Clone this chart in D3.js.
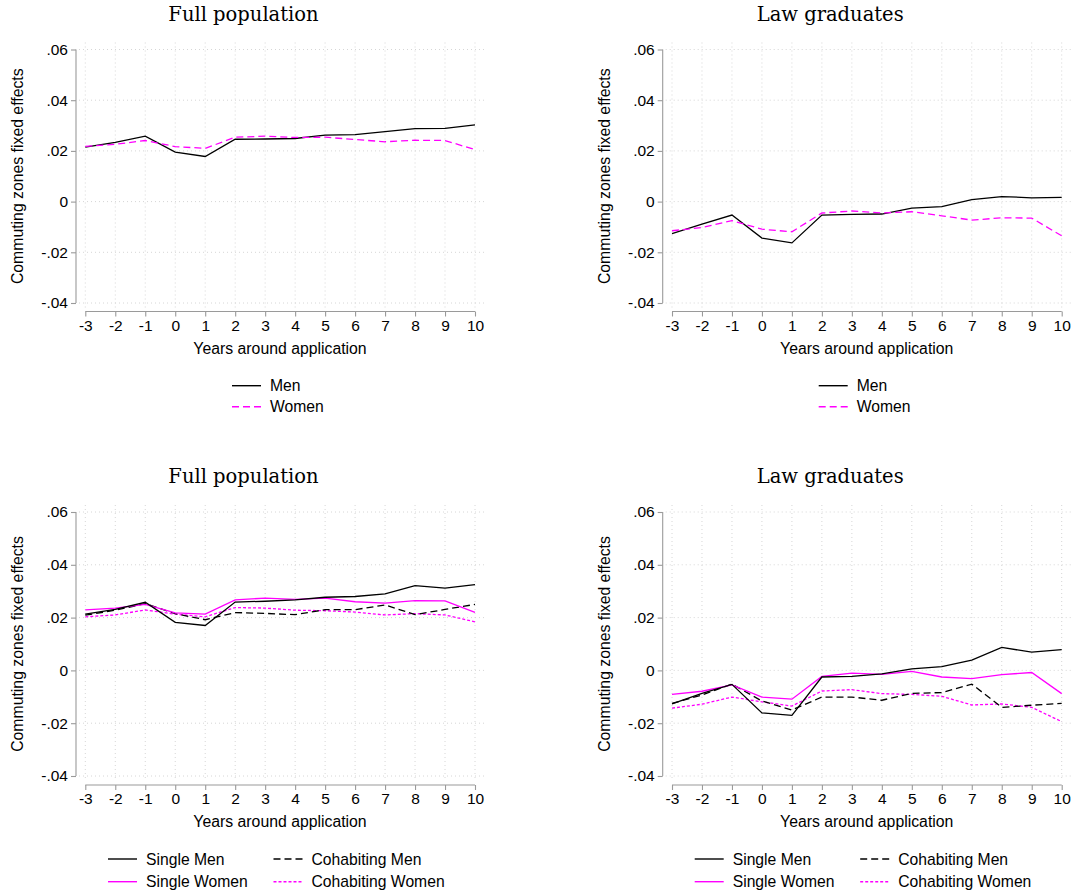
<!DOCTYPE html>
<html>
<head>
<meta charset="utf-8">
<script src="https://cdn.jsdelivr.net/npm/d3@7"></script>
<style>
  body { margin: 0; background: #fff; }
  svg { display: block; }
  text { font-family: "Liberation Sans", Arial, sans-serif; fill: #000; }
  .title { font-family: "DejaVu Serif", "Liberation Serif", serif; }
</style>
</head>
<body>
<div id="chart"></div>
<script>
const years = [-3, -2, -1, 0, 1, 2, 3, 4, 5, 6, 7, 8, 9, 10];
const yTicks = [-0.04, -0.02, 0, 0.02, 0.04, 0.06];

// top row: by gender
const fullMen = [0.0215, 0.0234, 0.0258, 0.0195, 0.0178, 0.0246, 0.0247, 0.0249, 0.0262, 0.0264, 0.0276, 0.0288, 0.0289, 0.0303];
const fullWomen = [0.0218, 0.0226, 0.0241, 0.0217, 0.0210, 0.0254, 0.0258, 0.0253, 0.0254, 0.0245, 0.0236, 0.0242, 0.0241, 0.0205];
const lawMen = [-0.0126, -0.0089, -0.0053, -0.0144, -0.0163, -0.0053, -0.0050, -0.0049, -0.0026, -0.0020, 0.0008, 0.0020, 0.0015, 0.0017];
const lawWomen = [-0.0115, -0.0102, -0.0075, -0.0109, -0.0119, -0.0045, -0.0037, -0.0045, -0.0040, -0.0056, -0.0073, -0.0064, -0.0065, -0.0135];

// bottom row: by gender and household
const fullSingleMen = [0.0213, 0.0231, 0.0258, 0.0182, 0.0170, 0.0259, 0.0262, 0.0267, 0.0277, 0.0280, 0.0290, 0.0321, 0.0312, 0.0325];
const fullSingleWomen = [0.0229, 0.0236, 0.0250, 0.0218, 0.0213, 0.0267, 0.0274, 0.0269, 0.0274, 0.0260, 0.0255, 0.0264, 0.0263, 0.0220];
const fullCohabMen = [0.0209, 0.0228, 0.0253, 0.0215, 0.0192, 0.0219, 0.0216, 0.0211, 0.0230, 0.0230, 0.0248, 0.0211, 0.0231, 0.0250];
const fullCohabWomen = [0.0203, 0.0210, 0.0229, 0.0213, 0.0203, 0.0238, 0.0236, 0.0228, 0.0226, 0.0221, 0.0210, 0.0215, 0.0210, 0.0184];
const lawSingleMen = [-0.0127, -0.0087, -0.0053, -0.0161, -0.0170, -0.0025, -0.0023, -0.0013, 0.0006, 0.0014, 0.0039, 0.0087, 0.0069, 0.0079];
const lawSingleWomen = [-0.0091, -0.0079, -0.0055, -0.0101, -0.0109, -0.0023, -0.0010, -0.0015, -0.0004, -0.0025, -0.0031, -0.0016, -0.0008, -0.0088];
const lawCohabMen = [-0.0125, -0.0093, -0.0052, -0.0116, -0.0150, -0.0101, -0.0101, -0.0113, -0.0087, -0.0084, -0.0052, -0.0140, -0.0132, -0.0125];
const lawCohabWomen = [-0.0143, -0.0128, -0.0101, -0.0119, -0.0135, -0.0078, -0.0073, -0.0088, -0.0091, -0.0098, -0.0131, -0.0127, -0.0140, -0.0194];

const pink = "#ff00ff";
const styles = {
  "Men": { color: "#000", dash: null },
  "Women": { color: pink, dash: "7,4" },
  "Single Men": { color: "#000", dash: null },
  "Single Women": { color: pink, dash: null },
  "Cohabiting Men": { color: "#000", dash: "7,4" },
  "Cohabiting Women": { color: pink, dash: "3,2" }
};

const svg = d3.select("#chart").append("svg")
  .attr("width", 1075)
  .attr("height", 892);

// Stata style labels: ".02", "-.04", plain hyphen minus
const fmtY = (d) => d === 0 ? "0" : (d < 0 ? "-" : "") + Math.abs(d).toFixed(2).replace(/^0/, "");
const fmtX = (d) => (d < 0 ? "-" : "") + Math.abs(d);

function drawPanel(opt) {
  const g = svg.append("g").attr("transform", `translate(${opt.dx},${opt.dy})`);

  const x = d3.scaleLinear().domain([-3, 10]).range([85.3, 475]);
  const y = d3.scaleLinear().domain([-0.04, 0.06]).range([opt.yBottom, opt.yTop]);

  // dotted grid
  g.selectAll(".hgrid").data(yTicks).enter().append("line")
    .attr("x1", 79).attr("x2", 484)
    .attr("y1", (d) => y(d)).attr("y2", (d) => y(d))
    .attr("stroke", "#d6d6d6").attr("stroke-dasharray", "1,3");
  g.selectAll(".vgrid").data(years).enter().append("line")
    .attr("x1", (d) => x(d)).attr("x2", (d) => x(d))
    .attr("y1", opt.yTop - 7).attr("y2", opt.yBottom + 5)
    .attr("stroke", "#d6d6d6").attr("stroke-dasharray", "1,3");

  // axes
  const yAxis = g.append("g").attr("transform", "translate(76,0)")
    .call(d3.axisLeft(y).tickValues(yTicks).tickFormat(fmtY).tickSize(5).tickPadding(3));
  const xAxis = g.append("g").attr("transform", `translate(0,${opt.xAxisY})`)
    .call(d3.axisBottom(x).tickValues(years).tickFormat(fmtX).tickSize(5).tickPadding(3));
  [yAxis, xAxis].forEach((a) => {
    a.select(".domain").attr("stroke", "#9a9a9a").attr("stroke-width", 1.1);
    a.selectAll(".tick line").attr("stroke", "#9a9a9a").attr("stroke-width", 1.1);
    a.selectAll(".tick text").style("font-size", "15.5px").attr("fill", "#000")
      .style("font-family", "'Liberation Sans', Arial, sans-serif");
  });
  yAxis.select(".domain").attr("d", `M0,${y(0.06)}V${y(-0.04)}`);
  xAxis.select(".domain").attr("d", `M${x(-3)},0H${x(10)}`);

  // titles
  g.append("text").attr("class", "title")
    .attr("x", 243.5).attr("y", opt.titleY)
    .attr("text-anchor", "middle")
    .style("font-size", "19.5px")
    .text(opt.title);
  g.append("text")
    .attr("x", 280).attr("y", opt.xAxisY + 42)
    .attr("text-anchor", "middle")
    .style("font-size", "15.8px")
    .text("Years around application");
  g.append("text")
    .attr("transform", `translate(23,${(opt.yTop + opt.yBottom) / 2}) rotate(-90)`)
    .attr("text-anchor", "middle")
    .style("font-size", "15.8px")
    .text("Commuting zones fixed effects");

  // lines
  const line = d3.line().x((d, i) => x(years[i])).y((d) => y(d));
  opt.series.forEach((s) => {
    const st = styles[s.name];
    g.append("path")
      .datum(s.values)
      .attr("d", line)
      .attr("fill", "none")
      .attr("stroke", st.color)
      .attr("stroke-width", 1.3)
      .attr("stroke-dasharray", st.dash);
  });

  // legend
  const leg = g.selectAll(".legend").data(opt.legend).enter().append("g")
    .attr("transform", (d) => `translate(${d.x},${d.y})`);
  leg.append("line")
    .attr("x1", 0).attr("x2", 29)
    .attr("stroke", (d) => styles[d.name].color)
    .attr("stroke-width", 1.4)
    .attr("stroke-dasharray", (d) => styles[d.name].dash);
  leg.append("text")
    .attr("x", 38).attr("dy", "0.35em")
    .style("font-size", "15.7px")
    .text((d) => d.name);
}

const topLegend = [
  { name: "Men", x: 232, y: 385.7 },
  { name: "Women", x: 232, y: 406.7 }
];
const bottomLegend = [
  { name: "Single Men", x: 108, y: 859 },
  { name: "Cohabiting Men", x: 273.5, y: 859 },
  { name: "Single Women", x: 108, y: 881.7 },
  { name: "Cohabiting Women", x: 273.5, y: 881.7 }
];

const topRow = { yTop: 49.5, yBottom: 303, xAxisY: 311.5, titleY: 21 };
const bottomRow = { yTop: 512, yBottom: 776, xAxisY: 785, titleY: 483 };

drawPanel({ ...topRow, dx: 0, dy: 0, title: "Full population", legend: topLegend,
  series: [{ name: "Men", values: fullMen }, { name: "Women", values: fullWomen }] });
drawPanel({ ...topRow, dx: 586.7, dy: 0, title: "Law graduates", legend: topLegend,
  series: [{ name: "Men", values: lawMen }, { name: "Women", values: lawWomen }] });
drawPanel({ ...bottomRow, dx: 0, dy: 0, title: "Full population", legend: bottomLegend,
  series: [
    { name: "Cohabiting Women", values: fullCohabWomen },
    { name: "Cohabiting Men", values: fullCohabMen },
    { name: "Single Women", values: fullSingleWomen },
    { name: "Single Men", values: fullSingleMen }
  ] });
drawPanel({ ...bottomRow, dx: 586.7, dy: 0, title: "Law graduates", legend: bottomLegend,
  series: [
    { name: "Cohabiting Women", values: lawCohabWomen },
    { name: "Cohabiting Men", values: lawCohabMen },
    { name: "Single Women", values: lawSingleWomen },
    { name: "Single Men", values: lawSingleMen }
  ] });
</script>
</body>
</html>
